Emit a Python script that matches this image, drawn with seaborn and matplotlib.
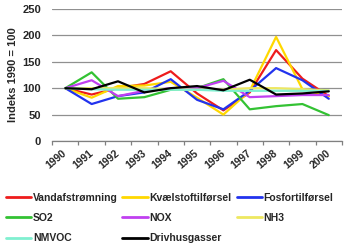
import matplotlib
matplotlib.use("Agg")
import matplotlib.pyplot as plt
import matplotlib.transforms as mtransforms
import seaborn as sns
import pandas as pd
from matplotlib.ticker import FixedLocator
from matplotlib.lines import Line2D

years = ["1990", "1991", "1992", "1993", "1994", "1995", "1996", "1997", "1998", "1999", "2000"]
vandafstromning = [100, 88, 100, 108, 132, 90, 58, 92, 172, 118, 85]
kvaelstof = [100, 82, 104, 105, 112, 82, 50, 95, 197, 98, 85]
fosfor = [100, 70, 85, 92, 117, 78, 60, 95, 138, 115, 80]
so2 = [100, 130, 80, 83, 97, 100, 117, 60, 66, 70, 49]
nox = [100, 115, 85, 95, 100, 100, 114, 83, 85, 87, 87]
nh3 = [100, 100, 100, 100, 98, 97, 97, 100, 100, 98, 96]
nmvoc = [100, 98, 97, 97, 97, 97, 95, 95, 95, 95, 95]
drivhus = [100, 98, 113, 92, 100, 104, 96, 116, 88, 90, 94]

series_names = ["Vandafstrømning", "Kvælstoftilførsel", "Fosfortilførsel",
                "SO2", "NOX", "NH3", "NMVOC", "Drivhusgasser"]
series_vals = [vandafstromning, kvaelstof, fosfor, so2, nox, nh3, nmvoc, drivhus]
colors = ["#EE1C1C", "#FFD800", "#2233EE", "#33C233", "#C040F0", "#EEE860", "#80F0D0", "#000000"]

rows = []
for name, vals in zip(series_names, series_vals):
    for i, v in enumerate(vals):
        rows.append({"pos": i, "year": years[i], "value": v, "serie": name})
df = pd.DataFrame(rows)

sns.set_theme(style="white")
plt.rcParams['font.family'] = ['Liberation Sans', 'DejaVu Sans']

fig = plt.figure(figsize=(3.5, 2.47), dpi=100)
ax = fig.add_axes([0.149, 0.429, 0.828, 0.535])

sns.lineplot(data=df, x="pos", y="value", hue="serie", hue_order=series_names,
             palette=colors, linewidth=1.6, ax=ax, legend=False, sort=False)

ax.set_xlim(-0.5, 10.5)
ax.set_ylim(0, 250)
ax.set_yticks([0, 50, 100, 150, 200, 250])
ax.yaxis.grid(True, color="#909090", linewidth=0.9)
ax.set_axisbelow(True)
for s in ["top", "right", "left"]:
    ax.spines[s].set_visible(False)
ax.spines["bottom"].set_color("#808080")
ax.spines["bottom"].set_linewidth(0.9)

ax.set_xticks(range(len(years)))
ax.set_xticklabels(years, rotation=40, ha="right", rotation_mode="anchor",
                   fontsize=7.5, fontweight="bold")
ax.tick_params(axis="x", which="major", length=0, pad=5)
offset = mtransforms.ScaledTranslation(-3 / 100, 0, fig.dpi_scale_trans)
for t in ax.get_xticklabels():
    t.set_transform(t.get_transform() + offset)
ax.xaxis.set_minor_locator(FixedLocator([i - 0.5 for i in range(len(years) + 1)]))
ax.tick_params(axis="x", which="minor", length=3, color="#808080", width=0.9, bottom=True)
ax.tick_params(axis="y", length=0, labelsize=8, pad=8)
for t in ax.get_yticklabels():
    t.set_fontweight("bold")

ax.set_xlabel("")
ax.set_ylabel("Indeks 1990 = 100", fontsize=8, fontweight="bold", labelpad=3)

# legend: three columns at fixed positions, filled row-wise
col_x = [0.018, 0.35, 0.677]
for c in range(3):
    idx = [i for i in range(len(series_names)) if i % 3 == c]
    handles = [Line2D([0], [0], color=colors[i], linewidth=2.0) for i in idx]
    labels = [series_names[i] for i in idx]
    fig.legend(handles, labels, loc="upper left", bbox_to_anchor=(col_x[c], 0.22),
               frameon=False, prop={"size": 7.5, "weight": "bold"},
               handlelength=2.4, handletextpad=0.15,
               labelspacing=1.0, borderaxespad=0, borderpad=0)

fig.savefig("out.png", dpi=100)
